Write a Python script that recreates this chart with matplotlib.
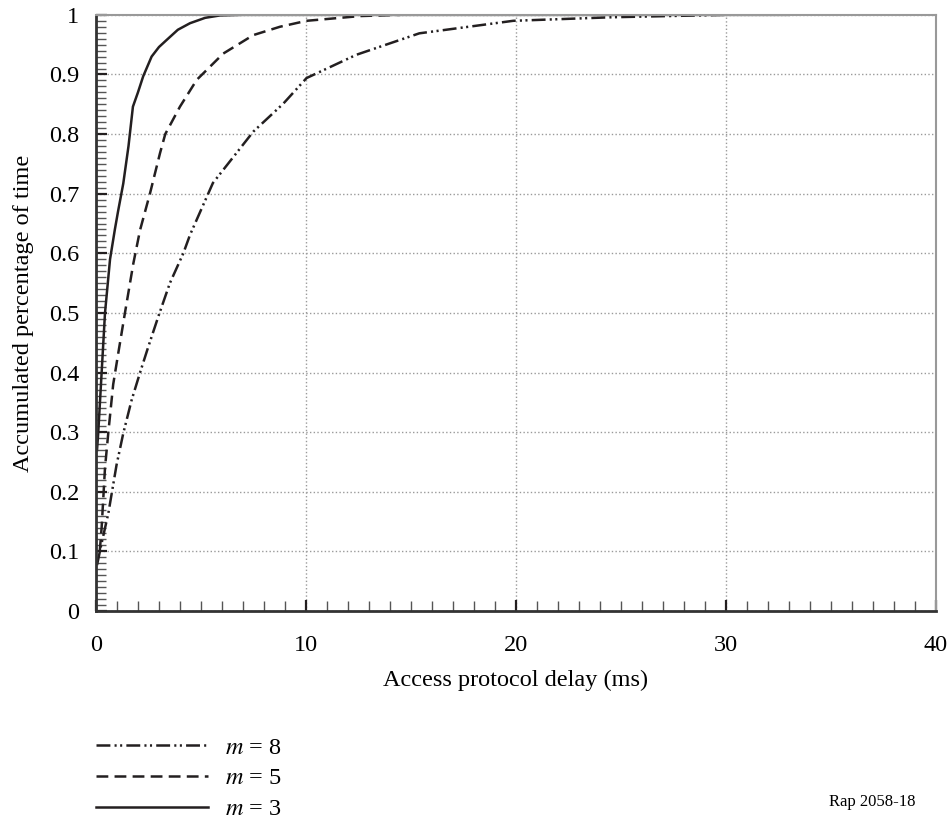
import matplotlib
matplotlib.use('Agg')
import matplotlib.pyplot as plt
from matplotlib import rcParams
from matplotlib.ticker import MultipleLocator
import numpy as np

config = {
    "font.family": ['Liberation Serif', 'DejaVu Serif'],
    "font.size": 17.5,
    "mathtext.fontset": 'stix',
    "lines.scale_dashes": False,
}
rcParams.update(config)

# m = 3 (solid)
x_m3 = [0.05, 0.11, 0.27, 0.43, 0.67, 0.9, 1.05, 1.3, 1.55, 1.76, 2.0, 2.25, 2.65, 3.0, 3.37, 3.9, 4.48, 5.2, 5.9, 7.0, 10.0, 20.0, 33.0]
y_m3 = [0.27, 0.30, 0.40, 0.50, 0.59, 0.64, 0.67, 0.717, 0.78, 0.846, 0.87, 0.897, 0.93, 0.946, 0.958, 0.975, 0.986, 0.995, 0.999, 1.0, 1.0, 1.0, 1.0]

# m = 5 (dashed)
x_m5 = [0.18, 0.27, 0.35, 0.43, 0.59, 0.82, 1.06, 1.38, 1.78, 2.1, 2.57, 3.05, 3.3, 4.0, 4.8, 6.06, 7.49, 8.76, 10.03, 12.6, 14.5]
y_m5 = [0.10, 0.14, 0.19, 0.24, 0.30, 0.38, 0.432, 0.50, 0.583, 0.639, 0.70, 0.768, 0.80, 0.846, 0.891, 0.935, 0.966, 0.98, 0.99, 0.998, 1.0]

# m = 8 (dash-dot-dot)
x_m8 = [0.05, 0.27, 0.59, 0.98, 1.3, 1.7, 2.1, 2.49, 2.97, 3.52, 4.16, 4.48, 5.57, 7.49, 8.92, 10.03, 12.4, 15.4, 19.87, 24.6, 30.0]
y_m8 = [0.077, 0.114, 0.164, 0.245, 0.298, 0.354, 0.40, 0.443, 0.494, 0.55, 0.60, 0.631, 0.718, 0.804, 0.851, 0.894, 0.933, 0.969, 0.99, 0.996, 1.0]

labels = [r'$m$ = 8', r'$m$ = 5', r'$m$ = 3']
x_ticks = [0, 10, 20, 30, 40]
y_ticks = [0, 0.1, 0.2, 0.3, 0.4, 0.5, 0.6, 0.7, 0.8, 0.9, 1]
y_ticklabels = ['0', '0.1', '0.2', '0.3', '0.4', '0.5', '0.6', '0.7', '0.8', '0.9', '1']

fig = plt.figure(figsize=(9.53, 8.25), dpi=100)
ax = fig.add_axes([0.1007, 0.2594, 0.8813, 0.7226])

lw = 1.8
l8, = ax.plot(x_m8, y_m8, color='#231f20', linewidth=lw, linestyle=(0, (10, 3, 1.5, 2.5, 1.5, 3)), label=labels[0])
l5, = ax.plot(x_m5, y_m5, color='#231f20', linewidth=lw, linestyle=(0, (8.5, 4.5)), label=labels[1])
l3, = ax.plot(x_m3, y_m3, color='#231f20', linewidth=lw, linestyle='-', label=labels[2])

ax.set_xlim(0, 40)
ax.set_ylim(0, 1)
ax.set_xticks(x_ticks)
ax.set_xticklabels([str(t) for t in x_ticks])
ax.set_yticks(y_ticks)
ax.set_yticklabels(y_ticklabels)
ax.xaxis.set_minor_locator(MultipleLocator(1))
ax.yaxis.set_minor_locator(MultipleLocator(0.01))
ax.tick_params(which='major', direction='in', length=8, width=1.6, color='#231f20')
ax.tick_params(axis='x', which='major', pad=17)
ax.tick_params(axis='y', which='major', pad=12)
ax.tick_params(which='minor', direction='in', length=7, width=1.0, color='#555555')
ax.tick_params(top=False, right=False, which='both')

ax.grid(True, which='major', linestyle=':', color='#9a9a9a', linewidth=1.0)

for side in ['left', 'bottom']:
    ax.spines[side].set_color('#333333')
    ax.spines[side].set_linewidth(2.0)
for side in ['top', 'right']:
    ax.spines[side].set_color('#999999')
    ax.spines[side].set_linewidth(1.5)

ax.set_xlabel('Access protocol delay (ms)', labelpad=10)
ax.set_ylabel('Accumulated percentage of time', labelpad=11)

fig.legend([l8, l5, l3], labels, loc='upper left', bbox_to_anchor=(0.0906, 0.119),
           frameon=False, handlelength=4.6, handletextpad=0.7, labelspacing=0.36,
           borderaxespad=0)

fig.text(0.961, 0.028, 'Rap 2058-18', ha='right', va='center', fontsize=12)

plt.savefig('out.png', dpi=100)
